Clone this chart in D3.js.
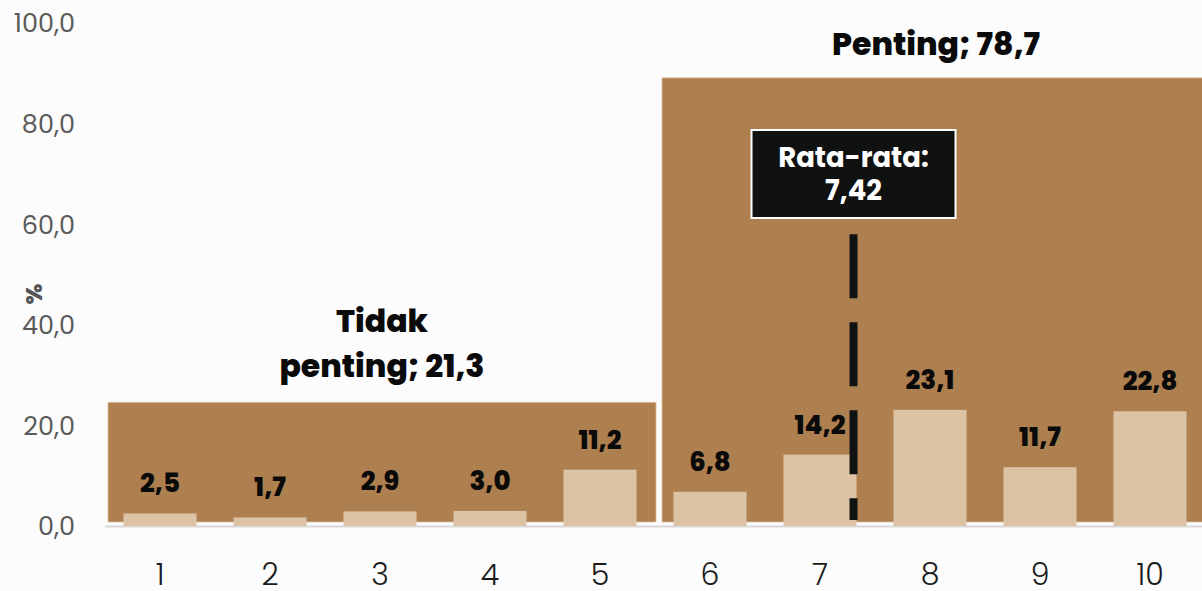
<!DOCTYPE html>
<html><head><meta charset="utf-8">
<script src="https://cdn.jsdelivr.net/npm/d3@7"></script>
<style>
html,body{margin:0;padding:0;background:#fcfcfc;}
svg{display:block;font-family:"Poppins","Inter","Open Sans",sans-serif;}
</style></head>
<body>
<svg id="chart" width="1202" height="591"></svg>
<script>
const categories = [1,2,3,4,5,6,7,8,9,10];
const values = [2.5,1.7,2.9,3.0,11.2,6.8,14.2,23.1,11.7,22.8];
const yTicks = [0,20,40,60,80,100];
const groupNames = ["Tidak penting","Penting"];
const groupValues = [21.3,78.7];
const groupCats = [[1,5],[6,10]];
const groupBlockHeights = [24.6,89.1];
const meanValue = 7.42;

const fmt = v => d3.format(".1f")(v).replace(".", ",");
const fmt2 = v => d3.format(".2f")(v).replace(".", ",");

const W = 1202, H = 591;
const svg = d3.select("#chart");
svg.append("rect").attr("width",W).attr("height",H).attr("fill","#fcfcfc");

const x = d3.scaleBand().domain(categories).range([105,1205]).paddingInner(0.336).paddingOuter(0.168);
const y = d3.scaleLinear().domain([0,100]).range([526,23]);
const step = x.step(), bw = x.bandwidth();
const cellL = c => x(c) - (step-bw)/2;
const cellR = c => x(c) + bw + (step-bw)/2;

// group blocks
const blocks = groupNames.map((n,i)=>({name:n, value:groupValues[i], h:groupBlockHeights[i],
  x0: cellL(groupCats[i][0]) + (i===0?3:7), x1: Math.min(cellR(groupCats[i][1]) + (i===0?1:0), W+2)}));
svg.selectAll("rect.block").data(blocks).join("rect").attr("class","block")
  .attr("x",d=>d.x0).attr("width",d=>d.x1-d.x0)
  .attr("y",d=>y(d.h)).attr("height",d=>y(0)-4-y(d.h))
  .attr("fill","#ae7f4f").attr("stroke","#d9bfa3").attr("stroke-width",0.8);

// axis line
svg.append("line").attr("x1",105).attr("x2",W).attr("y1",y(0)+0.5).attr("y2",y(0)+0.5)
  .attr("stroke","#d8d8d8").attr("stroke-width",2);

// bars
svg.selectAll("rect.bar").data(categories).join("rect").attr("class","bar")
  .attr("x",d=>x(d)).attr("width",bw)
  .attr("y",(d,i)=>y(values[i])).attr("height",(d,i)=>y(0)-y(values[i]))
  .attr("fill","#dcc3a5");

// bar labels
svg.selectAll("text.val").data(categories).join("text").attr("class","val")
  .attr("x",d=>x(d)+bw/2).attr("y",(d,i)=>y(values[i])-21)
  .attr("text-anchor","middle").attr("font-size",26).attr("font-weight",800)
  .attr("fill","#0a0a0a").text((d,i)=>fmt(values[i]));

// x axis labels
const xAxis = d3.axisBottom(x).tickSize(0).tickPadding(0);
const gx = svg.append("g").attr("transform",`translate(0,${y(0)})`).call(xAxis);
gx.select(".domain").remove();
gx.selectAll("text").attr("font-size",30).attr("font-weight",300).attr("fill","#1a1a1a")
  .attr("font-family","Poppins, Inter, sans-serif").attr("dy",null).attr("y",59);

// y axis labels
const yAxis = d3.axisLeft(y).tickValues(yTicks).tickFormat(fmt).tickSize(0).tickPadding(0);
const gy = svg.append("g").attr("transform","translate(75,0)").call(yAxis);
gy.select(".domain").remove();
gy.selectAll("text").attr("font-size",25.5).attr("font-weight",400).attr("fill","#5a5a5a")
  .attr("font-family","Poppins, Inter, sans-serif").attr("dy","0.35em").attr("x",0);

// y title
svg.append("text").attr("transform","translate(42,294) rotate(-90)")
  .attr("text-anchor","middle").attr("font-size",23).attr("font-weight",800)
  .attr("fill","#555").text("%");

// group labels
const g0 = blocks[0];
const t0 = svg.append("text").attr("text-anchor","middle").attr("font-size",31.5).attr("font-weight",800).attr("fill","#0a0a0a");
t0.append("tspan").attr("x",(g0.x0+g0.x1)/2).attr("y",332).text("Tidak");
t0.append("tspan").attr("x",(g0.x0+g0.x1)/2).attr("y",377).text("penting; " + fmt(g0.value));
const g1 = blocks[1];
svg.append("text").attr("text-anchor","middle").attr("font-size",31.5).attr("font-weight",800).attr("fill","#0a0a0a")
  .attr("x",(g1.x0+g1.x1)/2 + 3).attr("y",55).text(g1.name + "; " + fmt(g1.value));

// mean line
const meanX = x(Math.floor(meanValue)) + bw - 3;
svg.append("line").attr("x1",meanX).attr("x2",meanX).attr("y1",y(58)).attr("y2",y(0)-6)
  .attr("stroke","#111312").attr("stroke-width",8).attr("stroke-dasharray","64,24");

// mean box
const bxW = 204, bxH = 88;
svg.append("rect").attr("x",meanX-bxW/2).attr("y",130).attr("width",bxW).attr("height",bxH)
  .attr("fill","#101211").attr("stroke","#ffffff").attr("stroke-width",2);
const mt = svg.append("text").attr("text-anchor","middle").attr("font-size",27.5).attr("font-weight",700).attr("fill","#ffffff");
mt.append("tspan").attr("x",meanX).attr("y",167).text("Rata-rata:");
mt.append("tspan").attr("x",meanX).attr("y",200).text(fmt2(meanValue));
</script>
</body></html>
